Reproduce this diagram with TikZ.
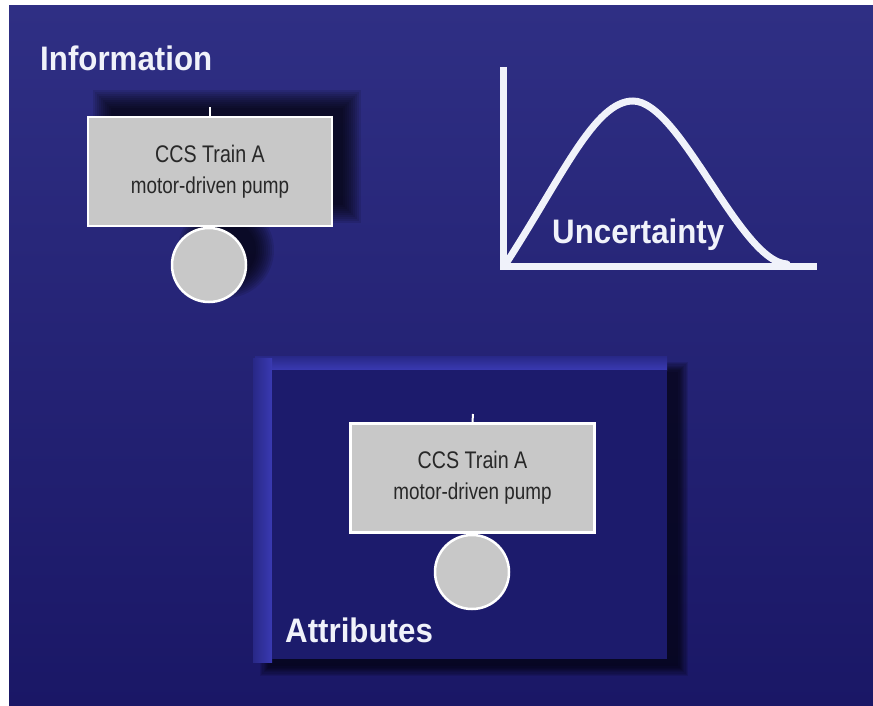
\documentclass[tikz,border=0pt]{standalone}
\usepackage{fontspec}
\setmainfont{Liberation Sans}
\newfontfamily\titlefont[FakeStretch=0.92]{Liberation Sans}
\newfontfamily\boxfont[FakeStretch=0.82]{Liberation Sans}
\definecolor{bgtop}{RGB}{47,47,132}
\definecolor{bgbot}{RGB}{26,23,102}
\definecolor{panelfill}{RGB}{28,27,108}
\definecolor{bevelout}{RGB}{40,40,135}
\definecolor{bevel}{RGB}{58,58,178}
\definecolor{boxgray}{RGB}{200,200,200}
\definecolor{txtwhite}{RGB}{240,242,250}
\definecolor{boxtext}{RGB}{40,40,40}
\begin{document}
\begin{tikzpicture}[x=1pt,y=-1pt,
  title/.style={anchor=base west, inner sep=0pt, text=txtwhite,
    font=\titlefont\bfseries\fontsize{34}{40}\selectfont},
  eventbox/.style={rectangle, draw=white, line width=2.5pt, fill=boxgray,
    minimum width=244pt, minimum height=109pt, inner sep=0pt, align=center,
    text=boxtext, font=\boxfont\fontsize{23}{31}\selectfont},
  eventcirc/.style={circle, draw=white, line width=2.5pt, fill=boxgray,
    minimum size=74pt, inner sep=0pt},
  tick/.style={draw=white, line width=2pt},
  whiteline/.style={draw=txtwhite, line width=7pt},
  shadowlayer/.style={fill=black, opacity=0.1},
]
\useasboundingbox (0,0) rectangle (873,706);
\fill[white] (0,0) rectangle (873,706);
\shade[top color=bgtop, bottom color=bgbot] (9,6) rectangle (873,706);

% panel shadow
\foreach \i in {0,...,8} {
  \fill[shadowlayer] ({260+\i*1.2},{362+\i*1.2}) rectangle ({688-\i*1.2},{676-\i*1.2});
}
% panel with bevel
\shade[top color=bevelout, bottom color=bevel] (255,356) rectangle (667,370);
\shade[left color=bevelout, right color=bevel] (253,358) rectangle (272,662);
\fill[panelfill] (272,370) rectangle (667,659);

% box 1 shadow
\foreach \i in {0,...,9} {
  \fill[shadowlayer] ({93+\i*2},{90+\i*2}) rectangle ({361-\i*2},{223-\i*2});
  \fill[shadowlayer] (226,250) circle ({48-\i*2});
}

% event 1
\coordinate (t1) at (210,107);
\node[eventbox] (b1) at (210,171.5) {{\fontsize{24}{31}\selectfont CCS Train A}\\motor-driven pump};
\draw[tick] (b1.north) -- (t1);
\node[eventcirc] (c1) at (209,265) {};

% event 2
\coordinate (t2) at (473,414);
\node[eventbox] (b2) at (472.5,478) {{\fontsize{24}{31}\selectfont CCS Train A}\\motor-driven pump};
\draw[tick] (b2.north) -- (t2);
\node[eventcirc] (c2) at (472,572) {};

% titles
\node[title] (info) at (40,71) {Information};
\node[title] (attr) at (285,642) {Attributes};
\node[title] (unc) at (552,243) {Uncertainty};

% uncertainty chart
\coordinate (ytop) at (503,67);
\coordinate (origin) at (503,266);
\coordinate (xend) at (817,266);
\coordinate (cstart) at (507,262);
\coordinate (cpeak) at (633,101);
\coordinate (cend) at (787,264);
\draw[whiteline] (ytop) -- (origin) -- (xend);
\draw[whiteline, line cap=round] (cstart) .. controls (563,175) and (595,101) .. (cpeak)
  .. controls (680,101) and (740,262) .. (cend);
\end{tikzpicture}
\end{document}
